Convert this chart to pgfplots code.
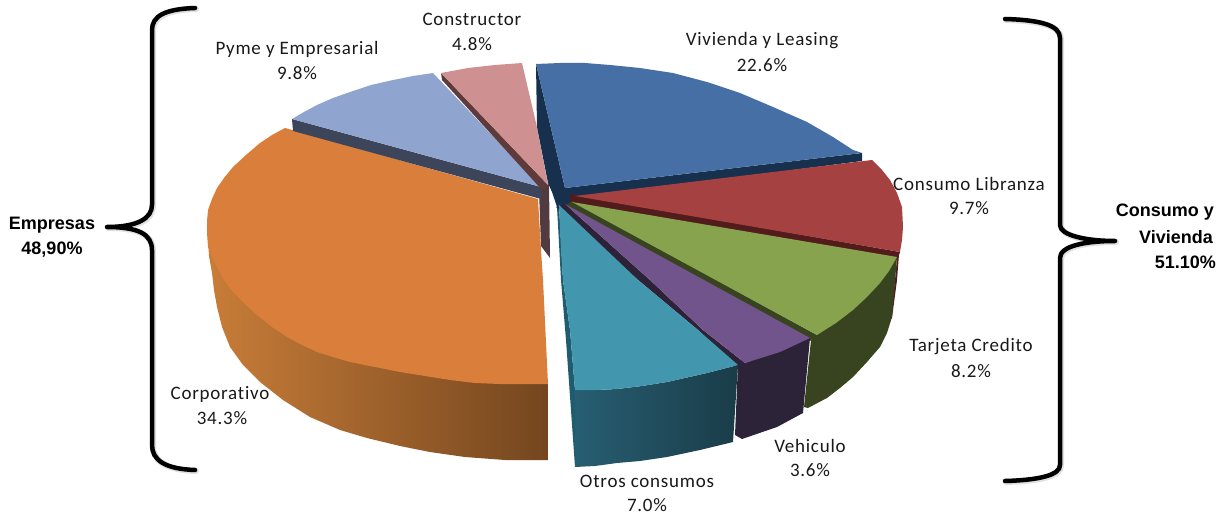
\documentclass[border=0pt]{standalone}
\usepackage{pgfplots}
\pgfplotsset{compat=1.18}
\usepackage{fontspec}
\setmainfont{Carlito}
\newfontfamily\lfont[LetterSpace=4,Ligatures=NoCommon]{Carlito}
\newfontfamily\bfont{Liberation Sans}
\definecolor{ortop}{HTML}{D97F3B}
\definecolor{orl}{HTML}{C87D38}
\definecolor{orm}{HTML}{A4642C}
\definecolor{orr}{HTML}{74461F}
\definecolor{pytop}{HTML}{8FA5CF}
\definecolor{pyd}{HTML}{3C4559}
\definecolor{cotop}{HTML}{CE9090}
\definecolor{cod}{HTML}{5E3A3A}
\definecolor{wed}{HTML}{523B40}
\definecolor{vitop}{HTML}{4670A5}
\definecolor{vid}{HTML}{17304D}
\definecolor{retop}{HTML}{A54241}
\definecolor{red}{HTML}{531C1C}
\definecolor{grtop}{HTML}{87A34E}
\definecolor{grd}{HTML}{384420}
\definecolor{putop}{HTML}{72548C}
\definecolor{pud}{HTML}{2D2339}
\definecolor{tetop}{HTML}{4296AE}
\definecolor{tel}{HTML}{275E72}
\definecolor{ter}{HTML}{1A3C48}
\definecolor{ted}{HTML}{1F5C70}
\tikzset{br/.style={line width=4.5pt, black, line cap=round, line join=round}, brs/.style={line width=6pt, black!35, opacity=.35, line cap=round, line join=round, shift={(1pt,-1pt)}},
L/.style={inner sep=0pt, font=\lfont\fontsize{19}{21}\selectfont, text=black!90}, B/.style={inner sep=0pt, font=\bfont\bfseries\fontsize{18}{20}\selectfont}}
\newcommand\braceL[1]{\draw[#1] (axis cs:195,8) .. controls (axis cs:165,9) and (axis cs:152,16) .. (axis cs:152,30) -- (axis cs:152,205) .. controls (axis cs:152,218) and (axis cs:138,227) .. (axis cs:107,227) .. controls (axis cs:138,227) and (axis cs:152,234) .. (axis cs:152,250) -- (axis cs:152,445) .. controls (axis cs:152,460) and (axis cs:165,469) .. (axis cs:195,470);}
\newcommand\braceR[1]{\draw[#1] (axis cs:1005,19) .. controls (axis cs:1040,20) and (axis cs:1060,25) .. (axis cs:1060,38) -- (axis cs:1060,225) .. controls (axis cs:1060,235) and (axis cs:1085,241) .. (axis cs:1115,241) .. controls (axis cs:1085,241) and (axis cs:1060,246) .. (axis cs:1060,258) -- (axis cs:1060,465) .. controls (axis cs:1060,475) and (axis cs:1040,480) .. (axis cs:1005,481);}
\begin{document}
\begin{tikzpicture}
\begin{axis}[
  scale only axis, width=1225pt, height=516pt,
  xmin=0, xmax=1225, ymin=0, ymax=516, y dir=reverse,
  hide axis, clip=false, every axis plot/.append style={forget plot, no markers},
]
\path (axis cs:0,0) rectangle (axis cs:1225,516);
% Corporativo side and top
\addplot[draw=none, left color=orl, middle color=orm, right color=orr] coordinates {(208,240)(209,256)(212,273)(214,290)(217,307)(222,327)(230,347)(243,365)(260,382)(283,400)(310,417)(340,430)(367,438)(400,446)(430,452)(465,457)(505,460)(548,460)(548,384)(470,340)(300,250)} --cycle;
\addplot[fill=ortop, draw=none] coordinates {(285,128)(272,135)(260,143)(246,155)(233,167)(224,178)(217,188)(212,199)(208,210)(207,221)(207,233)(208,247)(212,257)(217,267)(224,280)(233,292)(245,304)(257,315)(272,327)(287,337)(302,345)(317,352)(333,357)(350,362)(375,367)(400,372)(425,376)(450,380)(475,383)(500,384)(525,384)(548,384)(543,280)(541,250)(538,199)} --cycle;
% wedge behind
\addplot[fill=wed, draw=none] coordinates {(539,190)(549,184)(550,258)(541,246)} --cycle;
% Pyme
\addplot[fill=pyd, draw=none] coordinates {(292,119)(541,187)(541,199)(293,131)} --cycle;
\addplot[fill=pytop, draw=none] coordinates {(292,119)(304,112)(317,105)(333,98)(350,92)(371,85)(393,80)(413,76)(433,73)(541,187)} --cycle;
% Constructor
\addplot[fill=cod, draw=none] coordinates {(441,73)(442,80)(542,190)(549,186)} --cycle;
\addplot[fill=cotop, draw=none] coordinates {(441,73)(468,68)(495,65)(522,63)(536,123)(548,185)} --cycle;
% Vivienda
\addplot[fill=vid, draw=none] coordinates {(536,64)(537,127)(548,183)(552,192)(557,207)(572,205)(577,197)(575,194)(565,188)} --cycle;
\addplot[fill=vid, draw=none] coordinates {(565,188)(862,153)(862,161)(570,199)} --cycle;
\addplot[fill=vitop, draw=none] coordinates {(536,64)(560,63)(585,63)(610,65)(640,68)(673,73)(707,82)(740,93)(773,107)(807,122)(833,137)(853,150)(862,153)(565,188)} --cycle;
% Otros side pieces first
\addplot[fill=ted, draw=none] coordinates {(557,207)(559,205)(563,280)(570,330)(575,390)(575,467)(566,340)(561,280)} --cycle;
\addplot[draw=none, left color=tel, right color=ter] coordinates {(575,390)(596,390)(617,389)(642,386)(667,382)(707,373)(738,365)(733,442)(700,450)(667,457)(640,461)(617,463)(595,466)(575,467)} --cycle;
% Consumo Libranza
\addplot[fill=red, draw=none] coordinates {(899,254)(897,280)(892,318)(890,320)(895,280)(897,258)} --cycle;
\addplot[fill=red, draw=none] coordinates {(570,194)(900,252)(898,258)(570,203)} --cycle;
\addplot[fill=retop, draw=none] coordinates {(872,160)(882,170)(890,180)(897,193)(902,207)(903,227)(902,240)(900,252)(575,196)} --cycle;
% Tarjeta
\addplot[fill=grd, draw=none] coordinates {(897,257)(892,317)(887,333)(880,347)(867,362)(853,377)(840,388)(827,398)(808,408)(804,407)(811,340)} --cycle;
\addplot[fill=grd, draw=none] coordinates {(572,201)(817,335)(810,341)(565,206)} --cycle;
\addplot[fill=grtop, draw=none] coordinates {(572,202)(897,257)(889,271)(880,283)(867,297)(853,310)(836,323)(817,335)} --cycle;
% Vehiculo
\addplot[fill=pud, draw=none] coordinates {(810,338)(745,363)(738,363)(735,435)(742,439)(777,427)(803,413)} --cycle;
\addplot[fill=pud, draw=none] coordinates {(556,207)(565,204)(650,280)(703,330)(745,363)(736,366)(698,330)(638,280)} --cycle;
\addplot[fill=putop, draw=none] coordinates {(565,204)(810,338)(780,352)(745,363)(703,330)(650,280)} --cycle;
% Otros top
\addplot[fill=tetop, draw=none] coordinates {(559,205)(561,250)(563,280)(570,330)(575,390)(596,390)(617,389)(642,386)(667,382)(707,373)(738,365)(698,330)(638,280)} --cycle;
% Braces
\braceL{brs}
\braceR{brs}
\braceL{br}
\braceR{br}
% Labels
\node[L] at (axis cs:472,19) {Constructor};
\node[L] at (axis cs:472,44) {4.8\%};
\node[L] at (axis cs:762,41) {Vivienda y Leasing};
\node[L] at (axis cs:762,65) {22.6\%};
\node[L] at (axis cs:297,49) {Pyme y Empresarial};
\node[L] at (axis cs:297,73) {9.8\%};
\node[L] at (axis cs:969,184) {Consumo Libranza};
\node[L] at (axis cs:969,208) {9.7\%};
\node[L] at (axis cs:971,347) {Tarjeta Credito};
\node[L] at (axis cs:971,371) {8.2\%};
\node[L] at (axis cs:810,446) {Vehiculo};
\node[L] at (axis cs:810,470) {3.6\%};
\node[L] at (axis cs:647,481) {Otros consumos};
\node[L] at (axis cs:647,505) {7.0\%};
\node[L] at (axis cs:220,394) {Corporativo};
\node[L] at (axis cs:222,418) {34.3\%};
\node[B] at (axis cs:52,225) {Empresas};
\node[B] at (axis cs:52,250) {48,90\%};
\node[B,anchor=east] at (axis cs:1214,212) {Consumo y};
\node[B,anchor=east] at (axis cs:1213,237) {Vivienda};
\node[B,anchor=east] at (axis cs:1216,262) {51.10\%};
\end{axis}
\end{tikzpicture}
\end{document}
